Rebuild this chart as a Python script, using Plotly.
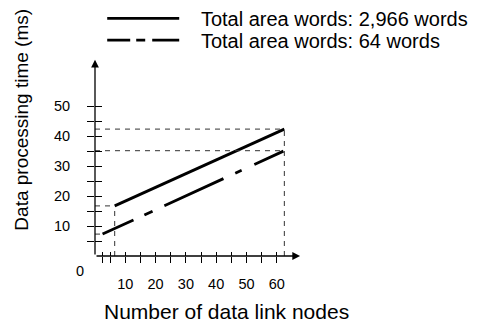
import plotly.graph_objects as go

# ---- data ----
series_names = ["Total area words: 2,966 words", "Total area words: 64 words"]
nodes_2966 = [6.5, 62.5]
time_2966 = [16.7, 42.3]
nodes_64 = [2.5, 62.5]
time_64 = [7.3, 35.1]

x_tickvals = [2.5, 5, 10, 15, 20, 25, 30, 35, 40, 45, 50, 55, 60]
x_ticktext = ["", "", "10", "", "20", "", "30", "", "40", "", "50", "", "60"]
y_tickvals = [5, 10, 15, 20, 25, 30, 35, 40, 45, 50]
y_ticktext = ["", "10", "", "20", "", "30", "", "40", "", "50"]

X_MAX = 68
Y_MAX = 66

FONT = "Liberation Sans, Arial, sans-serif"
GUIDE = dict(color="#333333", width=1, dash="5px,5px")
NBSP = "\u00a0"

fig = go.Figure()

# guide lines (dashed), built from series end points
guides = [
    ([0, nodes_2966[1]], [time_2966[1], time_2966[1]]),
    ([0, nodes_64[1]], [time_64[1], time_64[1]]),
    ([nodes_2966[1], nodes_2966[1]], [0, time_2966[1]]),
    ([nodes_2966[0], nodes_2966[0]], [0, time_2966[0]]),
    ([0, nodes_2966[0]], [time_2966[0], time_2966[0]]),
    ([0, nodes_64[0]], [time_64[0], time_64[0]]),
]
for gx, gy in guides:
    fig.add_trace(go.Scatter(x=gx, y=gy, mode="lines", line=GUIDE,
                             xaxis="x2", yaxis="y2", showlegend=False,
                             hoverinfo="skip"))

fig.add_trace(go.Scatter(x=nodes_2966, y=time_2966, mode="lines",
                         name=NBSP * 3 + series_names[0],
                         line=dict(color="black", width=2.8),
                         legend="legend"))
fig.add_trace(go.Scatter(x=nodes_64, y=time_64, mode="lines",
                         showlegend=False,
                         line=dict(color="black", width=2.8,
                                   dash="34px,12px,9px,13px,65px,13px,7px,14px,32px")))
# legend sample for the dash-dot series (no data points)
fig.add_trace(go.Scatter(x=[None], y=[None], mode="lines",
                         name=NBSP * 3 + series_names[1],
                         line=dict(color="black", width=2.8,
                                   dash="23px,6px,9px,7px,27px"),
                         legend="legend2"))

axis_common = dict(showgrid=False, zeroline=False, showline=False)

fig.update_layout(
    width=483, height=324,
    margin=dict(l=86.7, r=190.2, t=50, b=76, autoexpand=False),
    paper_bgcolor="white", plot_bgcolor="white",
    font=dict(family=FONT, color="black"),
    xaxis=dict(range=[0, X_MAX], tickmode="array", tickvals=x_tickvals,
               ticktext=x_ticktext, ticks="outside", ticklen=6, tickwidth=1.2,
               tickcolor="black", tickfont=dict(size=14.5),
               ticklabelstandoff=9, **axis_common),
    yaxis=dict(range=[0, Y_MAX], tickmode="array", tickvals=y_tickvals,
               ticktext=y_ticktext, ticks="outside", ticklen=7, tickwidth=1.2,
               tickcolor="black", tickfont=dict(size=14.5),
               ticklabelstandoff=14, **axis_common),
    xaxis2=dict(range=[0, X_MAX], overlaying="x", anchor="y2",
                tickmode="array", tickvals=x_tickvals, ticks="inside",
                ticklen=4, tickwidth=1.2, tickcolor="black",
                showticklabels=False, **axis_common),
    yaxis2=dict(range=[0, Y_MAX], overlaying="y", anchor="x2", side="left",
                tickmode="array", tickvals=y_tickvals, ticks="inside",
                ticklen=7, tickwidth=1.2, tickcolor="black",
                showticklabels=False, **axis_common),
    legend=dict(x=0.035, y=1.2, xanchor="left", yanchor="middle",
                font=dict(size=20), bgcolor="rgba(0,0,0,0)", itemwidth=72),
    legend2=dict(x=0.035, y=1.09, xanchor="left", yanchor="middle",
                 font=dict(size=20), bgcolor="rgba(0,0,0,0)", itemwidth=72),
    showlegend=True,
)

# axes with arrowheads
fig.add_annotation(x=0, y=Y_MAX - 0.6, ax=0, ay=0, xref="x", yref="y",
                   axref="x", ayref="y", text="", showarrow=True,
                   arrowhead=2, arrowsize=1.2, arrowwidth=1.3, arrowcolor="black")
fig.add_annotation(x=X_MAX - 0.3, y=0, ax=0, ay=0, xref="x", yref="y",
                   axref="x", ayref="y", text="", showarrow=True,
                   arrowhead=2, arrowsize=1.2, arrowwidth=1.3, arrowcolor="black")

# origin label
fig.add_annotation(x=0, y=0, xref="x", yref="y", text="0", showarrow=False,
                   xanchor="center", yanchor="middle", xshift=-15, yshift=-15,
                   font=dict(size=14.5))

# axis titles
fig.add_annotation(xref="paper", yref="paper", x=0.636, y=-0.278,
                   text="Number of data link nodes", showarrow=False,
                   xanchor="center", yanchor="middle", font=dict(size=21))
fig.add_annotation(xref="paper", yref="paper", x=-0.356, y=0.687,
                   text="Data processing time (ms)", showarrow=False,
                   textangle=-90, xanchor="center", yanchor="middle",
                   font=dict(size=19))

fig.write_html("out.html")
